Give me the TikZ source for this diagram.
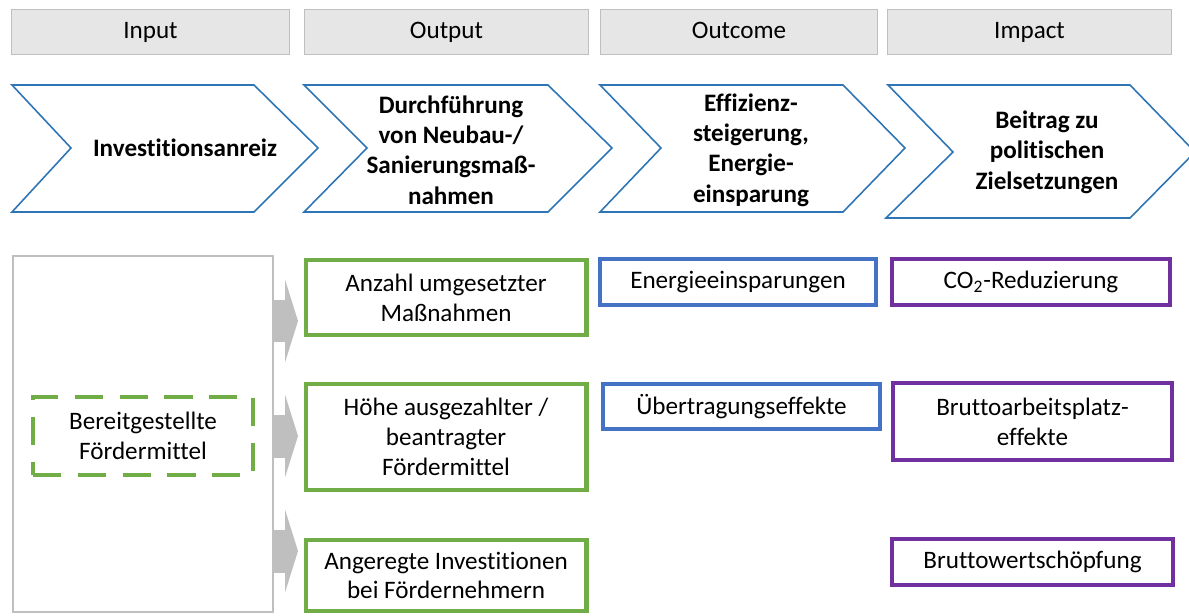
\documentclass[tikz,border=0pt]{standalone}
\usepackage{fontspec}
\setmainfont{Carlito}[Ligatures=NoCommon]
\usetikzlibrary{positioning,arrows.meta}
\pgfdeclarelayer{bg}
\pgfsetlayers{bg,main}
\definecolor{chevblue}{HTML}{2E75B6}
\definecolor{boxgreen}{HTML}{70AD47}
\definecolor{boxblue}{HTML}{4472C4}
\definecolor{boxpurple}{HTML}{7030A0}
\definecolor{headgray}{HTML}{E6E6E6}
\definecolor{linegray}{HTML}{BFBFBF}

\begin{document}
\begin{tikzpicture}[x=0.02cm, y=-0.02cm,
    font=\fontsize{14.3pt}{17pt}\selectfont,
    headnode/.style={rectangle, draw=linegray, fill=headgray, line width=0.8pt, minimum height=0.9cm, text height=1.6ex, text depth=0ex},
    chevron/.style={draw=chevblue, line width=0.9pt, line join=miter},
    chevtext/.style={font=\fontsize{14.3pt}{17.3pt}\selectfont\bfseries, align=center},
    greenbox/.style={rectangle, draw=boxgreen, line width=2.3pt, minimum width=5.62cm, align=center},
    bluebox/.style={rectangle, draw=boxblue, line width=2.3pt, minimum height=0.91cm, align=center},
    purplebox/.style={rectangle, draw=boxpurple, line width=2.3pt, align=center},
    grayarrow/.style={line width=0.86cm, color=linegray, -{Triangle[length=0.26cm, width=1.66cm, line width=0pt]}},
]
\useasboundingbox (0,0) rectangle (1189,615);

%Headers
\node[headnode, minimum width=5.56cm] (hin) at (150.5,32) {Input};
\node[headnode, minimum width=5.68cm] (hout) at (446.5,32) {Output};
\node[headnode, minimum width=5.54cm] (hoc) at (739,32) {Outcome};
\node[headnode, minimum width=5.68cm] (him) at (1029.5,32) {Impact};

%Chevrons
\draw[chevron] (12,85) -- (254,85) -- (318,148) -- (254,212) -- (12,212) -- (71,148) -- cycle;
\draw[chevron] (304,85) -- (548,85) -- (612,148) -- (548,212) -- (304,212) -- (367,148) -- cycle;
\draw[chevron] (600,85) -- (843,85) -- (905,148) -- (843,212) -- (600,212) -- (661,148) -- cycle;
\draw[chevron] (888,85) -- (1130,85) -- (1195,152) -- (1130,218) -- (886,218) -- (953,152) -- cycle;

\node[chevtext] (chin) at (185,148) {Investitionsanreiz};
\node[chevtext] (chout) at (451,150) {Durchführung\\von Neubau-/\\Sanierungsmaß-\\nahmen};
\node[chevtext] (choc) at (751,150) {Effizienz-\\steigerung,\\Energie-\\einsparung};
\node[chevtext] (chim) at (1047,152) {Beitrag zu\\politischen\\Zielsetzungen};

%Input
\node[rectangle, draw=linegray, line width=1.2pt, minimum width=5.2cm, minimum height=7.12cm] (inbox) at (143,434) {};
\node[rectangle, draw=boxgreen, line width=2.3pt, dash pattern=on 16pt off 9.5pt, minimum width=4.4cm, minimum height=1.56cm, align=center] (funds) at (143,436) {Bereitgestellte\\Fördermittel};

%Output
\node[greenbox, minimum height=1.5cm] (out1) at (446,297.5) {Anzahl umgesetzter\\Maßnahmen};
\node[greenbox, minimum height=2.12cm] (out2) at (446,437) {Höhe ausgezahlter /\\beantragter\\Fördermittel};
\node[greenbox, minimum height=1.42cm] (out3) at (446,575.5) {Angeregte Investitionen\\bei Fördernehmern};

%Outcome
\node[bluebox, minimum width=5.52cm] (oc1) at (738,282) {Energieeinsparungen};
\node[bluebox, minimum width=5.54cm, minimum height=0.9cm] (oc2) at (741.5,406.5) {Übertragungseffekte};

%Impact
\node[purplebox, minimum width=5.56cm, minimum height=0.92cm] (im1) at (1031,282) {CO\textsubscript{2}-Reduzierung};
\node[purplebox, minimum width=5.58cm, minimum height=1.54cm] (im2) at (1032.5,421.5) {Bruttoarbeitsplatz-\\effekte};
\node[purplebox, minimum width=5.62cm, minimum height=0.92cm] (im3) at (1032.5,562) {Bruttowertschöpfung};

%Arrows
\coordinate (tip1) at (298,321);
\coordinate (tip2) at (298,436);
\coordinate (tip3) at (298,551);
\begin{pgfonlayer}{bg}
\draw[grayarrow] (inbox.east |- tip1) -- (tip1);
\draw[grayarrow] (inbox.east |- tip2) -- (tip2);
\draw[grayarrow] (inbox.east |- tip3) -- (tip3);
\end{pgfonlayer}
\end{tikzpicture}
\end{document}
